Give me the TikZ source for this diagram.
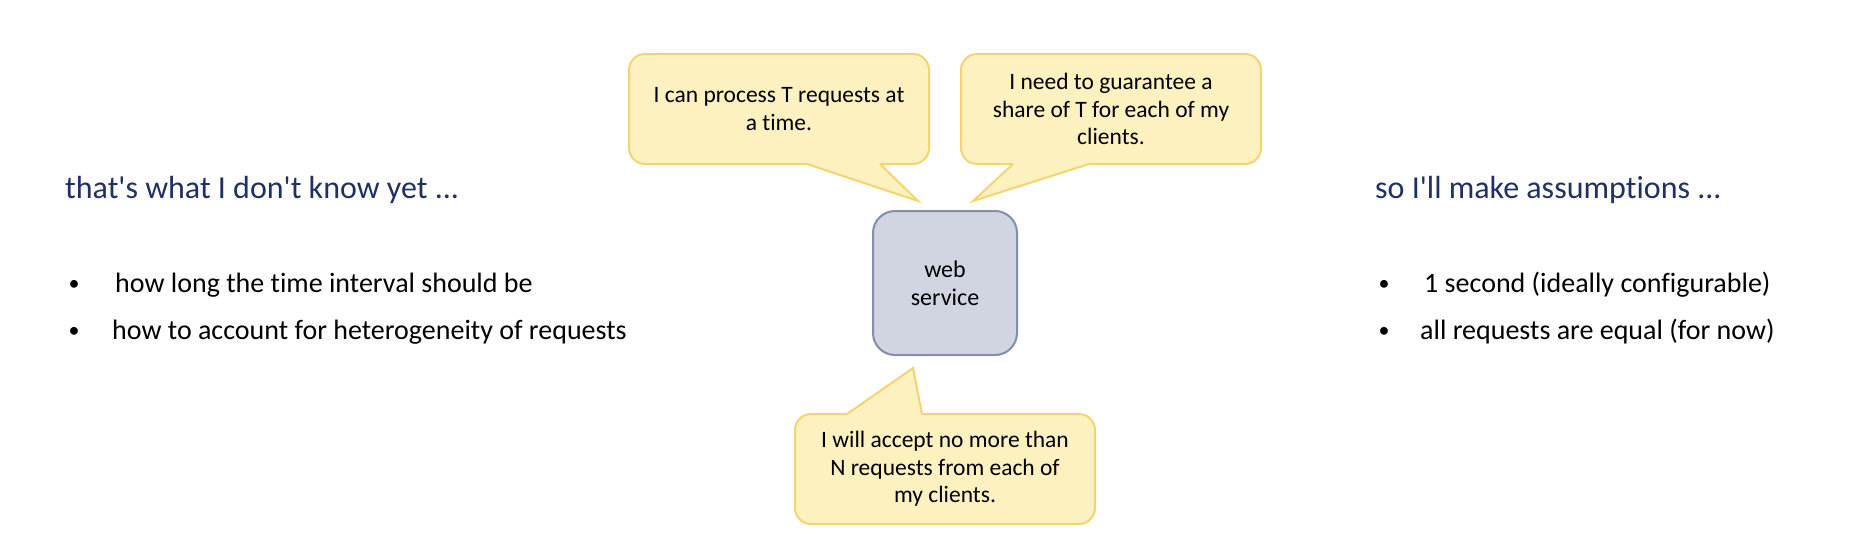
\documentclass[tikz,border=0pt]{standalone}
\usepackage{fontspec}
\setmainfont{Carlito}[Ligatures={NoCommon}]
\usepackage{tikz}

\definecolor{bubblefill}{RGB}{253,241,192}
\definecolor{bubbleline}{RGB}{245,212,112}
\definecolor{svcfill}{RGB}{208,213,225}
\definecolor{svcline}{RGB}{128,143,170}
\definecolor{headblue}{RGB}{31,48,100}

\tikzset{
  bubble/.style={draw=bubbleline, fill=bubblefill, line width=2pt, rounded corners=16pt,
    minimum width=300pt, minimum height=110pt, align=center, inner sep=0pt,
    font=\fontsize{23.5}{27.5}\selectfont},
  tail/.style={fill=bubblefill},
  tailline/.style={draw=bubbleline, line width=2pt, line join=miter},
  service/.style={draw=svcline, fill=svcfill, line width=2pt, rounded corners=22pt,
    minimum width=144pt, minimum height=144pt, align=center, inner sep=0pt,
    font=\fontsize{24}{28}\selectfont},
  head/.style={anchor=west, inner sep=0pt, text=headblue, font=\fontsize{32}{38}\selectfont},
  item/.style={anchor=west, inner sep=0pt, font=\fontsize{28}{34}\selectfont},
  dot/.style={inner sep=0pt, font=\fontsize{22}{28}\selectfont}
}

\begin{document}
\begin{tikzpicture}[x=1pt, y=-1pt]

    \useasboundingbox (0, 0) rectangle (1867, 536);

    % the service and what it says
    \node [service] (websvc) at (945, 283) {web\\service};

    \node [bubble] (canproc) at (779, 109) {I can process T requests at\\a time.};
    \node [bubble] (guarantee) at (1111, 109) {I need to guarantee a\\share of T for each of my\\clients.};
    \node [bubble] (accept) at (945, 469) {I will accept no more than\\N requests from each of\\my clients.};

    \coordinate (canproctip) at (918, 201);
    \coordinate (guaranteetip) at (973, 201);
    \coordinate (accepttip) at (913, 368);

    \fill [tail] (807, 160) -- (807, 164) -- (canproctip) -- (880, 164) -- (880, 160) -- cycle;
    \draw [tailline] (807, 164) -- (canproctip) -- (880, 164);
    \fill [tail] (1089, 160) -- (1089, 164) -- (guaranteetip) -- (1013, 164) -- (1013, 160) -- cycle;
    \draw [tailline] (1089, 164) -- (guaranteetip) -- (1013, 164);
    \fill [tail] (847, 418) -- (847, 414) -- (accepttip) -- (922, 414) -- (922, 418) -- cycle;
    \draw [tailline] (847, 414) -- (accepttip) -- (922, 414);

    % left column
    \node [head] (knowhead) at (65, 190) {that\textquotesingle s what I don\textquotesingle t know yet ...};
    \node [dot] (knowdot1) at (74, 285) {•};
    \node [item] (know1) at (115, 285) {how long the time interval should be};
    \node [dot] (knowdot2) at (74, 332) {•};
    \node [item] (know2) at (112, 332) {how to account for heterogeneity of requests};

    % right column
    \node [head] (assumehead) at (1375, 190) {so I\textquotesingle ll make assumptions ...};
    \node [dot] (assumedot1) at (1384, 285) {•};
    \node [item] (assume1) at (1424, 285) {1 second (ideally configurable)};
    \node [dot] (assumedot2) at (1384, 332) {•};
    \node [item] (assume2) at (1420, 332) {all requests are equal (for now)};

\end{tikzpicture}
\end{document}
